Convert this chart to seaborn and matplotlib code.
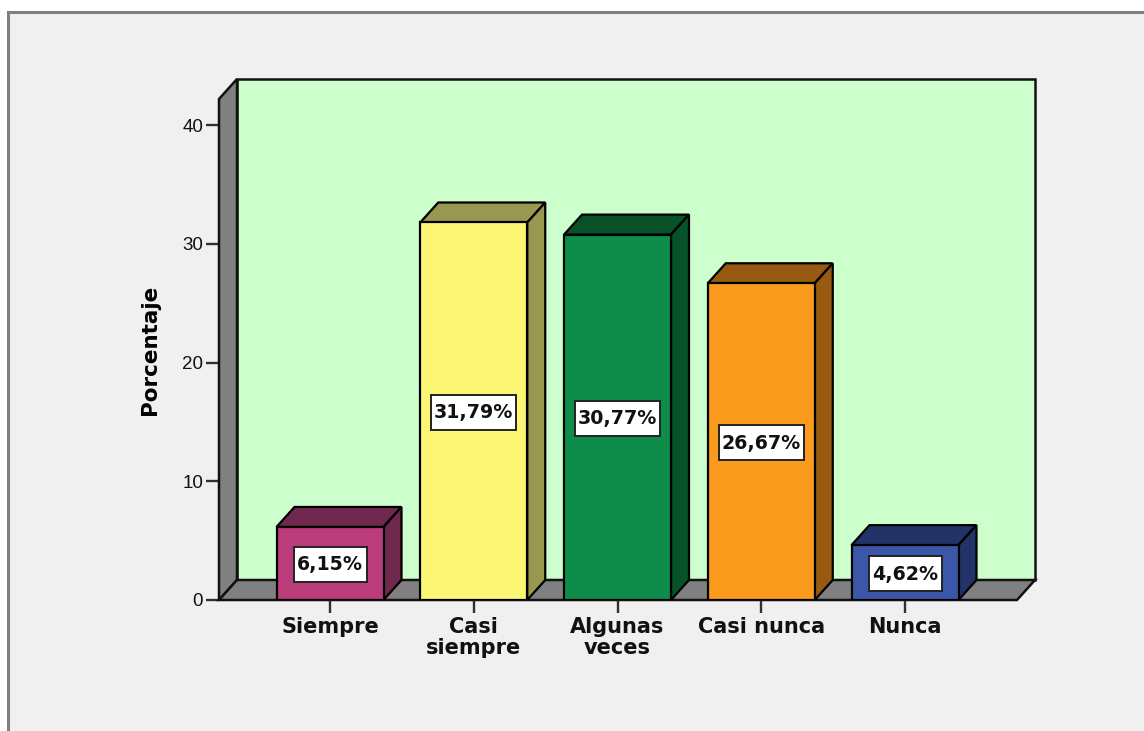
import matplotlib
matplotlib.use("Agg")
import matplotlib.pyplot as plt
from matplotlib.patches import Polygon, Rectangle
from matplotlib.transforms import IdentityTransform
import seaborn as sns

categories = ["Siempre", "Casi\nsiempre", "Algunas\nveces", "Casi nunca", "Nunca"]
values = [6.15, 31.79, 30.77, 26.67, 4.62]
value_labels = ["6,15%", "31,79%", "30,77%", "26,67%", "4,62%"]
front_colors = ["#bb3c7b", "#fbf774", "#0e8c4a", "#fb9b1e", "#3c57a9"]
side_colors = ["#70284f", "#9a9850", "#075229", "#975a10", "#233368"]
y_ticks = [0, 10, 20, 30, 40]
y_label = "Porcentaje"

W, H = 1144, 731
sns.set_theme(style="white")
plt.rcParams["font.family"] = ["Liberation Sans", "DejaVu Sans"]

fig = plt.figure(figsize=(W / 100, H / 100), dpi=100, facecolor="white")
L, R, B, T = 219, 1017, 600, 99

# panel
fig.add_artist(Rectangle((8 / W, -0.1), 1.2, 1.1 - 12 / H, transform=fig.transFigure,
                         fc="#f0f0f0", ec="#7f7f7f", lw=2.2, zorder=-5))

ax = fig.add_axes([L / W, 1 - B / H, (R - L) / W, (B - T) / H])
ax.patch.set_visible(False)
for s in ax.spines.values():
    s.set_visible(False)

DX, DY = 18, 20
ident = IdentityTransform()
def P(x, y):
    return (x, H - y)

sns.barplot(x=categories, y=values, hue=categories, palette=front_colors, legend=False,
            width=107 / 143.75, edgecolor="black", linewidth=1.6, saturation=1, ax=ax, zorder=5)
bars = sorted([b for b in ax.patches if b.get_height() > 0], key=lambda b: b.get_x())
step = 143.75
ax.set_xlim((L - 330) / step, (R - 330) / step)
ax.set_ylim(0, (B - T) / 11.875)
ax.set_yticks(y_ticks)
ax.set_xlabel("")
ax.set_ylabel(y_label, fontsize=15.5, fontweight="bold", family="DejaVu Sans", labelpad=16, color="black")
ax.tick_params(axis="y", left=True, length=9.4, width=1.7, color="#303030", pad=2, labelsize=13.5, labelcolor="#111111")
ax.tick_params(axis="x", bottom=True, length=9.4, width=1.7, color="#303030", pad=2.5, labelsize=15)
for t in ax.get_xticklabels():
    t.set_family("DejaVu Sans")
    t.set_fontweight("bold")
    t.set_linespacing(1.12)
    t.set_color("#111111")

# walls
def wall(pts, fc, z):
    ax.add_patch(Polygon([P(*p) for p in pts], closed=True, fc=fc, ec="#111111", lw=1.8,
                         transform=ident, zorder=z, clip_on=False))
wall([(L + DX, T - DY), (R + DX, T - DY), (R + DX, B - DY), (L + DX, B - DY)], "#ccffcc", 1)
wall([(L, B), (L + DX, B - DY), (L + DX, T - DY), (L, T)], "#808080", 2)
wall([(L, B), (L + DX, B - DY), (R + DX, B - DY), (R, B)], "#808080", 2)

# bar depth faces and labels
fig.canvas.draw()
for bar, side, lab in zip(bars, side_colors, value_labels):
    x0, y0 = ax.transData.transform((bar.get_x(), 0))
    x1, y1 = ax.transData.transform((bar.get_x() + bar.get_width(), bar.get_height()))
    for pts in ([(x0, y1), (x0 + DX, y1 + DY), (x1 + DX, y1 + DY), (x1, y1)],
                [(x1, y1), (x1 + DX, y1 + DY), (x1 + DX, y0 + DY), (x1, y0)]):
        ax.add_patch(Polygon(pts, closed=True, fc=side, ec="black", lw=1.6, transform=ident, zorder=4, clip_on=False))
    cx, cy = (x0 + x1) / 2, (y0 + y1) / 2 - 1
    bw = 85 if len(lab) > 5 else 73
    ax.add_patch(Rectangle((cx - bw / 2, cy - 17.5), bw, 35, fc="white", ec="#222222", lw=1.4,
                           transform=ident, zorder=6, clip_on=False))
    ax.text(cx, cy - 0.5, lab, transform=ident, ha="center", va="center", fontsize=13.7,
            fontweight="bold", family="DejaVu Sans", color="#111111", zorder=7)

fig.savefig("out.png", dpi=100, facecolor="white")
